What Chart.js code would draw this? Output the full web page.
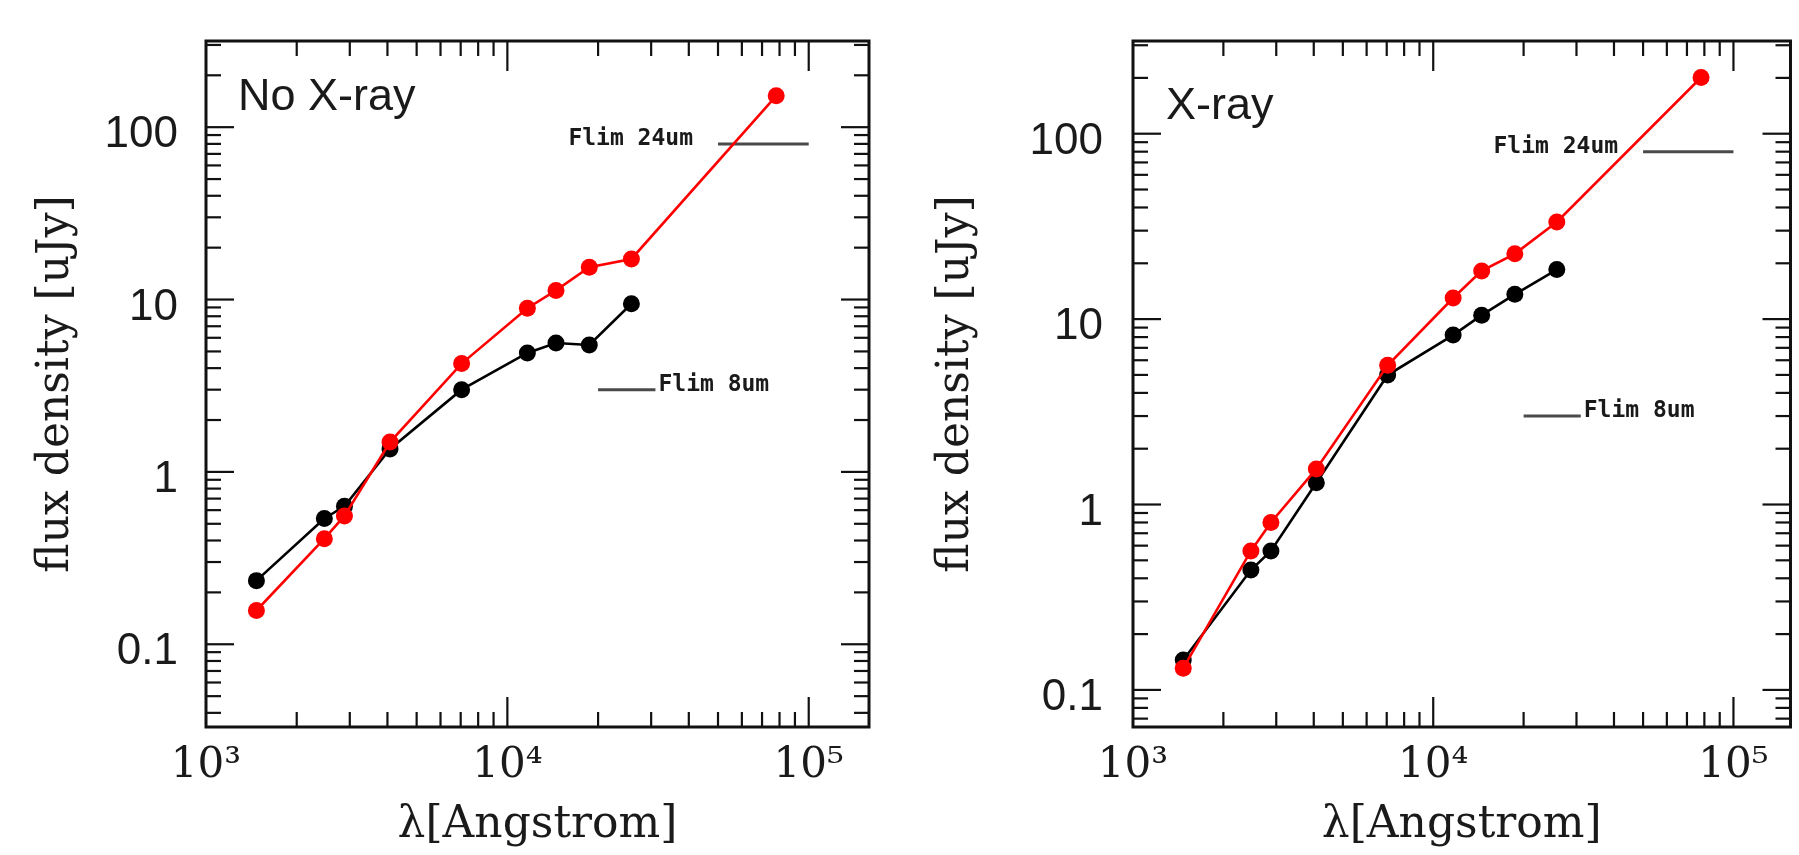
<!DOCTYPE html>
<html><head><meta charset="utf-8">
<script src="https://cdn.jsdelivr.net/npm/chart.js@4.4.1/dist/chart.umd.min.js"></script>
<style>
html,body{margin:0;padding:0;background:#fff;overflow:hidden;width:1799px;height:855px}
canvas{position:absolute;top:0}
#c1{left:0}
#c2{left:900px}
</style></head>
<body>
<canvas id="c1" width="900" height="855"></canvas>
<canvas id="c2" width="899" height="855"></canvas>
<script>
// ---- data ----
const wavelength = [1470, 2470, 2880, 4080, 7050, 11650, 14500, 18700, 25800, 78000];
const noXrayBlack = [0.234, 0.537, 0.631, 1.36, 3.0, 4.9, 5.6, 5.45, 9.45];
const noXrayRed   = [0.157, 0.41, 0.555, 1.49, 4.25, 8.9, 11.3, 15.4, 17.2, 152];
const xrayBlack   = [0.145, 0.443, 0.562, 1.31, 4.99, 8.2, 10.5, 13.6, 18.5];
const xrayRed     = [0.131, 0.562, 0.80, 1.555, 5.64, 13.0, 18.2, 22.5, 33.4, 201];
const flim24Wave = [50000, 100000];
const flim24Flux = [80, 80];
const flim8Wave  = [20000, 31000];
const flim8Flux  = [3.0, 3.0];
const xTickValues = [1e3, 1e4, 1e5];
const xTickLabels = ['10³', '10⁴', '10⁵'];
const yTickValues = [0.1, 1, 10, 100];
const yTickLabels = ['0.1', '1', '10', '100'];

function pts(xs, ys) { return ys.map((v, i) => ({x: xs[i], y: v})); }
function labelFor(vals, labs) {
  return function (value) {
    const i = vals.findIndex(t => Math.abs(t - value) / t < 1e-6);
    return i >= 0 ? labs[i] : '';
  };
}
const TXT = '#1a1a1a';

const framePlugin = {
  id: 'frame',
  afterDatasetsDraw(chart, args, opts) {
    const {ctx, chartArea: a, scales: {x, y}} = chart;
    ctx.save();
    ctx.strokeStyle = '#111';
    ctx.lineCap = 'butt';
    const mant = v => {
      const e = Math.floor(Math.log10(v) + 1e-9);
      return v / Math.pow(10, e);
    };
    const seg = (x1, y1, x2, y2) => { ctx.beginPath(); ctx.moveTo(x1, y1); ctx.lineTo(x2, y2); ctx.stroke(); };
    ctx.lineWidth = 2.2;
    x.ticks.forEach(t => {
      const m = mant(t.value);
      if (Math.abs(m - Math.round(m)) > 1e-6) return;
      const px = x.getPixelForValue(t.value);
      if (px < a.left + 1 || px > a.right - 1) return;
      const len = Math.round(m) === 1 ? 30 : 15;
      seg(px, a.bottom, px, a.bottom - len);
      seg(px, a.top, px, a.top + len);
    });
    y.ticks.forEach(t => {
      const m = mant(t.value);
      if (Math.abs(m - Math.round(m)) > 1e-6) return;
      const py = y.getPixelForValue(t.value);
      if (py < a.top + 1 || py > a.bottom - 1) return;
      const len = Math.round(m) === 1 ? 28 : 15;
      seg(a.left, py, a.left + len, py);
      seg(a.right, py, a.right - len, py);
    });
    ctx.lineWidth = 3;
    ctx.strokeRect(a.left, a.top, a.right - a.left, a.bottom - a.top);

    // panel label
    ctx.fillStyle = TXT;
    ctx.font = '45px "Liberation Sans", Arial, sans-serif';
    ctx.textAlign = 'left';
    ctx.textBaseline = 'alphabetic';
    ctx.fillText(opts.panel, a.left + opts.panelDx, opts.panelY);

    // flux-limit labels anchored on the limit lines
    ctx.font = 'bold 23px "DejaVu Sans Mono", "Liberation Mono", monospace';
    ctx.textBaseline = 'middle';
    const m24 = chart.getDatasetMeta(2).data;
    const m8 = chart.getDatasetMeta(3).data;
    ctx.textAlign = 'right';
    ctx.fillText('Flim 24um', m24[0].x - 25, m24[0].y - 5);
    ctx.textAlign = 'left';
    ctx.fillText('Flim 8um', m8[1].x + 3, m8[1].y - 5);
    ctx.restore();
  }
};

function makeChart(id, cfg) {
  const pointStyle = (c) => ({
    borderColor: c, backgroundColor: c, borderWidth: 2.6,
    pointRadius: 8.5, pointHoverRadius: 8.5, pointBorderWidth: 0,
    pointBackgroundColor: c, tension: 0
  });
  return new Chart(document.getElementById(id), {
    type: 'line',
    data: {
      datasets: [
        Object.assign({data: pts(wavelength, cfg.red)}, pointStyle('#ff0000')),
        Object.assign({data: pts(wavelength, cfg.black)}, pointStyle('#000000')),
        {data: pts(flim24Wave, flim24Flux), borderColor: '#4a4a4a', borderWidth: 3, pointRadius: 0},
        {data: pts(flim8Wave, flim8Flux), borderColor: '#4a4a4a', borderWidth: 3, pointRadius: 0}
      ]
    },
    options: {
      responsive: false, animation: false, events: [],
      layout: {padding: {top: cfg.top, right: cfg.right, left: 0, bottom: 0}},
      plugins: {
        legend: {display: false}, tooltip: {enabled: false},
        frame: {panel: cfg.panel, panelDx: cfg.panelDx, panelY: cfg.panelY}
      },
      scales: {
        x: {
          type: 'logarithmic', position: 'bottom', min: 1000, max: cfg.xmax,
          grid: {display: false, drawTicks: false}, border: {display: false},
          ticks: {autoSkip: false, maxRotation: 0, minRotation: 0, padding: 14, color: TXT,
                  font: {family: '"DejaVu Serif", serif', size: 42},
                  callback: labelFor(xTickValues, xTickLabels)},
          title: {display: true, text: 'λ[Angstrom]', color: TXT,
                  font: {family: '"DejaVu Serif", serif', size: 44}, padding: {top: 0, bottom: 3}},
          afterFit: s => { s.height = cfg.xh; s.paddingLeft = 0; s.paddingRight = 0; }
        },
        y: {
          type: 'logarithmic', position: 'left', min: cfg.ymin, max: cfg.ymax,
          grid: {display: false, drawTicks: false}, border: {display: false},
          ticks: {autoSkip: false, padding: cfg.ypad, labelOffset: 8, color: TXT,
                  font: {family: '"Liberation Sans", Arial, sans-serif', size: 44},
                  callback: labelFor(yTickValues, yTickLabels)},
          title: {display: true, text: 'flux density [uJy]', color: TXT,
                  font: {family: '"DejaVu Serif", serif', size: 44}, padding: {top: 30, bottom: 0}},
          afterFit: s => { s.width = cfg.yw; s.paddingTop = 0; s.paddingBottom = 0; }
        }
      }
    },
    plugins: [framePlugin]
  });
}

makeChart('c1', {
  red: noXrayRed, black: noXrayBlack, panel: 'No X-ray', panelDx: 32, panelY: 110,
  top: 41, right: 31, xh: 128, yw: 206, ypad: 28,
  xmax: Math.pow(10, 5.2), ymin: Math.pow(10, -1.48), ymax: Math.pow(10, 2.5)
});
makeChart('c2', {
  red: xrayRed, black: xrayBlack, panel: 'X-ray', panelDx: 33, panelY: 119,
  top: 41, right: 4, xh: 128, yw: 233, ypad: 30,
  xmax: Math.pow(10, 5.19), ymin: Math.pow(10, -1.2), ymax: Math.pow(10, 2.5)
});
</script>
</body></html>
